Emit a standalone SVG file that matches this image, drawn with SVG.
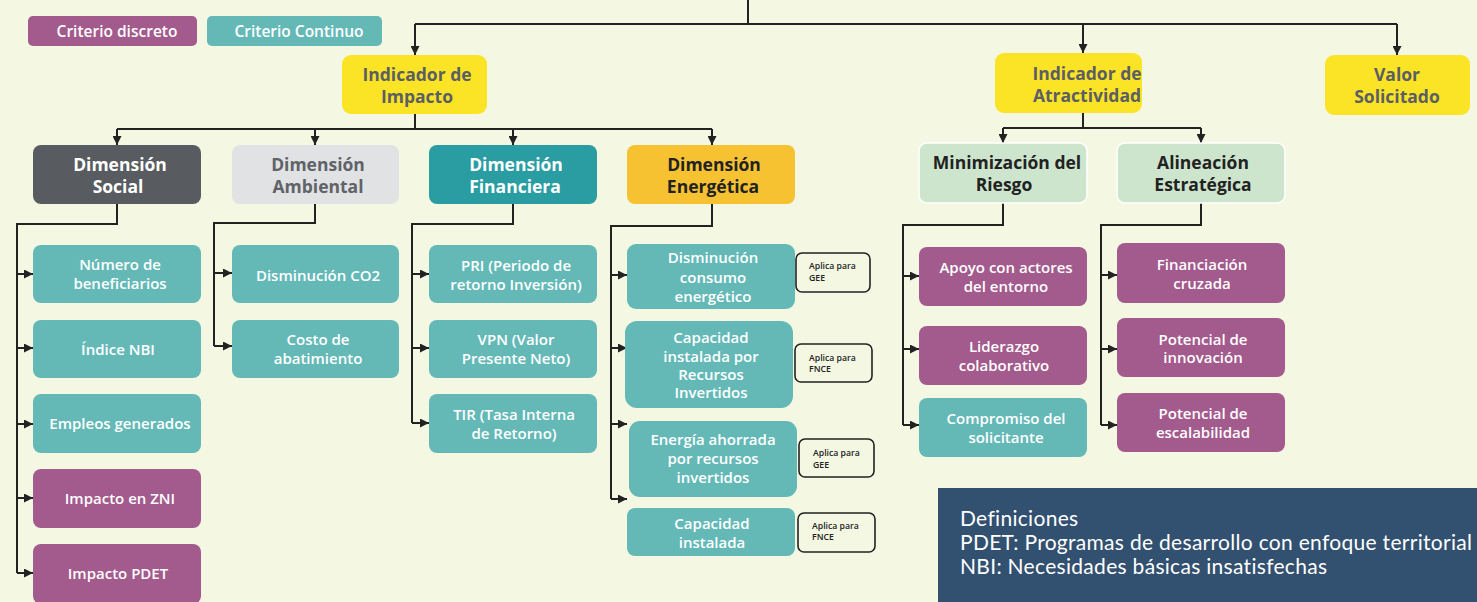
<svg xmlns="http://www.w3.org/2000/svg" width="1477" height="602" viewBox="0 0 1477 602">
<defs>
<marker id="ah" markerUnits="userSpaceOnUse" markerWidth="9" markerHeight="9" viewBox="0 0 9 9" refX="9" refY="4.5" orient="auto">
<path d="M0,0 L9,4.5 L0,9 z" fill="#222"/>
</marker>
<style>
.t{font-family:"Open Sans",Lato,sans-serif;font-weight:600;text-anchor:middle}
.w{fill:#fff}
.c{font-size:15px}
.h{font-size:17.5px;font-weight:700}
.cont{fill:#64b9b7}
.disc{fill:#a35a8c}
.ln{fill:none;stroke:#222;stroke-width:2}
.arr{fill:none;stroke:#222;stroke-width:2;marker-end:url(#ah)}
.ap{fill:none;stroke:#222;stroke-width:1.6}
.apt{font-family:"Open Sans",Lato,sans-serif;font-weight:600;font-size:8.7px;fill:#222}
.def{font-family:Lato,"Open Sans",sans-serif;font-size:21px;letter-spacing:0.3px;fill:#fff}
</style>
</defs>
<rect x="0" y="0" width="1477" height="602" fill="#f4f7e2"/>

<g id="connectors">
<path class="ln" d="M748,0 V24 M415,24 H1397"/>
<path class="arr" d="M415,24 V55"/>
<path class="arr" d="M1083,24 V53"/>
<path class="arr" d="M1397,24 V55"/>
<path class="ln" d="M415,114 V129 M117,129 H712"/>
<path class="arr" d="M117,129 V145"/>
<path class="arr" d="M315,129 V145"/>
<path class="arr" d="M513,129 V145"/>
<path class="arr" d="M712,129 V145"/>
<path class="ln" d="M1083,113 V128 M1003,128 H1201"/>
<path class="arr" d="M1003,128 V143"/>
<path class="arr" d="M1201,128 V143"/>
<path class="ln" d="M117,204 V224 H17 V573"/>
<path class="arr" d="M17,274 H33"/>
<path class="arr" d="M17,348 H33"/>
<path class="arr" d="M17,424 H33"/>
<path class="arr" d="M17,498 H33"/>
<path class="arr" d="M17,573 H33"/>
<path class="ln" d="M315,204 V223 H214 V346"/>
<path class="arr" d="M214,273 H232"/>
<path class="arr" d="M214,346 H232"/>
<path class="ln" d="M513,204 V224 H412 V423"/>
<path class="arr" d="M412,274 H429"/>
<path class="arr" d="M412,348 H429"/>
<path class="arr" d="M412,423 H429"/>
<path class="ln" d="M712,204 V226 H611 V499"/>
<path class="arr" d="M611,275 H627"/>
<path class="arr" d="M611,348 H627"/>
<path class="arr" d="M611,424 H627"/>
<path class="arr" d="M611,499 H627"/>
<path class="ln" d="M1003,203 V225 H903 V425"/>
<path class="arr" d="M903,276 H919"/>
<path class="arr" d="M903,349 H919"/>
<path class="arr" d="M903,425 H919"/>
<path class="ln" d="M1201,203 V225 H1101 V425"/>
<path class="arr" d="M1101,275 H1117"/>
<path class="arr" d="M1101,349 H1117"/>
<path class="arr" d="M1101,425 H1117"/>
</g>

<g id="legend-discreto"><rect x="28" y="16" width="169" height="30" rx="5" class="disc"/><text class="t w" x="117" y="37" font-size="15.5">Criterio discreto</text></g>
<g id="legend-continuo"><rect x="207" y="16" width="175" height="30" rx="5" class="cont"/><text class="t w" x="299" y="37" font-size="15.5">Criterio Continuo</text></g>

<g id="ind-impacto"><rect x="342" y="55" width="145" height="59" rx="9" fill="#fbe426"/><text class="t h" fill="#5b5e63" x="417" y="81">Indicador de</text><text class="t h" fill="#5b5e63" x="417" y="103">Impacto</text></g>
<g id="ind-atractividad"><rect x="995" y="53" width="147" height="60" rx="9" fill="#fbe426"/><text class="t h" fill="#5b5e63" x="1087" y="80">Indicador de</text><text class="t h" fill="#5b5e63" x="1087" y="102">Atractividad</text></g>
<g id="valor"><rect x="1325" y="55" width="145" height="60" rx="9" fill="#fbe426"/><text class="t h" fill="#5b5e63" x="1397" y="81">Valor</text><text class="t h" fill="#5b5e63" x="1397" y="103">Solicitado</text></g>

<g id="dim-social"><rect x="33" y="145" width="168" height="59" rx="8" fill="#585c60"/><text class="t h w" x="120" y="171">Dimensión</text><text class="t h w" x="118" y="193">Social</text></g>
<g id="dim-ambiental"><rect x="232" y="145" width="167" height="59" rx="8" fill="#e1e2e4"/><text class="t h" fill="#5f6368" x="318" y="171">Dimensión</text><text class="t h" fill="#5f6368" x="318" y="193">Ambiental</text></g>
<g id="dim-financiera"><rect x="429" y="145" width="168" height="59" rx="8" fill="#2a9da3"/><text class="t h w" x="516" y="171">Dimensión</text><text class="t h w" x="515" y="193">Financiera</text></g>
<g id="dim-energetica"><rect x="627" y="145" width="168" height="59" rx="8" fill="#f6c232"/><text class="t h" fill="#222" x="714" y="171">Dimensión</text><text class="t h" fill="#222" x="713" y="193">Energética</text></g>
<g id="min-riesgo"><rect x="919" y="143" width="168" height="60" rx="8" fill="#cde5cd" stroke="#fff" stroke-width="1.5"/><text class="t h" fill="#222" x="1007" y="169">Minimización del</text><text class="t h" fill="#222" x="1004" y="191">Riesgo</text></g>
<g id="alineacion"><rect x="1117" y="143" width="168" height="60" rx="8" fill="#cde5cd" stroke="#fff" stroke-width="1.5"/><text class="t h" fill="#222" x="1203" y="169">Alineación</text><text class="t h" fill="#222" x="1203" y="191">Estratégica</text></g>

<g id="num-benef"><rect x="33" y="245" width="168" height="58" rx="8" class="cont"/><text class="t c w" x="120" y="270">Número de</text><text class="t c w" x="120" y="289">beneficiarios</text></g>
<g id="indice-nbi"><rect x="33" y="320" width="168" height="58" rx="8" class="cont"/><text class="t c w" x="118" y="355">Índice NBI</text></g>
<g id="empleos"><rect x="33" y="394" width="168" height="59" rx="8" class="cont"/><text class="t c w" x="120" y="429">Empleos generados</text></g>
<g id="zni"><rect x="33" y="469" width="168" height="59" rx="8" class="disc"/><text class="t c w" x="120" y="504">Impacto en ZNI</text></g>
<g id="pdet"><rect x="33" y="544" width="168" height="60" rx="8" class="disc"/><text class="t c w" x="118" y="579">Impacto PDET</text></g>

<g id="co2"><rect x="232" y="245" width="167" height="58" rx="8" class="cont"/><text class="t c w" x="318" y="281">Disminución CO2</text></g>
<g id="costo"><rect x="232" y="320" width="167" height="58" rx="8" class="cont"/><text class="t c w" x="318" y="345">Costo de</text><text class="t c w" x="318" y="364">abatimiento</text></g>

<g id="pri"><rect x="429" y="245" width="168" height="58" rx="8" class="cont"/><text class="t c w" x="516" y="271">PRI (Periodo de</text><text class="t c w" x="516" y="290">retorno Inversión)</text></g>
<g id="vpn"><rect x="429" y="320" width="168" height="58" rx="8" class="cont"/><text class="t c w" x="516" y="345">VPN (Valor</text><text class="t c w" x="516" y="364">Presente Neto)</text></g>
<g id="tir"><rect x="429" y="394" width="168" height="59" rx="8" class="cont"/><text class="t c w" x="514" y="420">TIR (Tasa Interna</text><text class="t c w" x="514" y="439">de Retorno)</text></g>

<g id="dis-consumo"><rect x="627" y="244" width="168" height="65" rx="9" class="cont"/><text class="t c w" x="713" y="263">Disminución</text><text class="t c w" x="713" y="283">consumo</text><text class="t c w" x="713" y="302">energético</text></g>
<g id="cap-recursos"><rect x="625" y="321" width="168" height="87" rx="12" class="cont"/><text class="t c w" x="711" y="343">Capacidad</text><text class="t c w" x="711" y="362">instalada por</text><text class="t c w" x="711" y="380">Recursos</text><text class="t c w" x="711" y="398">Invertidos</text></g>
<g id="energia-ahorrada"><rect x="629" y="421" width="168" height="76" rx="11" class="cont"/><text class="t c w" x="713" y="445">Energía ahorrada</text><text class="t c w" x="713" y="464">por recursos</text><text class="t c w" x="713" y="483">invertidos</text></g>
<g id="cap-instalada"><rect x="627" y="508" width="168" height="48" rx="8" class="cont"/><text class="t c w" x="712" y="529">Capacidad</text><text class="t c w" x="712" y="548">instalada</text></g>

<g id="aplica1"><rect x="796" y="253" width="74" height="39" rx="6" class="ap"/><text class="apt" x="809" y="269">Aplica para</text><text class="apt" x="809" y="281">GEE</text></g>
<g id="aplica2"><rect x="795" y="344" width="77" height="38" rx="6" class="ap"/><text class="apt" x="809" y="361">Aplica para</text><text class="apt" x="809" y="372">FNCE</text></g>
<g id="aplica3"><rect x="799" y="439" width="75" height="38" rx="6" class="ap"/><text class="apt" x="813" y="456">Aplica para</text><text class="apt" x="813" y="468">GEE</text></g>
<g id="aplica4"><rect x="798" y="513" width="77" height="39" rx="6" class="ap"/><text class="apt" x="812" y="529">Aplica para</text><text class="apt" x="812" y="540">FNCE</text></g>

<g id="apoyo"><rect x="919" y="247" width="168" height="59" rx="8" class="disc"/><text class="t c w" x="1006" y="273">Apoyo con actores</text><text class="t c w" x="1006" y="292">del entorno</text></g>
<g id="liderazgo"><rect x="919" y="326" width="168" height="59" rx="8" class="disc"/><text class="t c w" x="1004" y="352">Liderazgo</text><text class="t c w" x="1004" y="371">colaborativo</text></g>
<g id="compromiso"><rect x="919" y="398" width="168" height="59" rx="8" class="cont"/><text class="t c w" x="1006" y="424">Compromiso del</text><text class="t c w" x="1006" y="443">solicitante</text></g>

<g id="financiacion"><rect x="1117" y="243" width="168" height="60" rx="8" class="disc"/><text class="t c w" x="1202" y="270">Financiación</text><text class="t c w" x="1202" y="289">cruzada</text></g>
<g id="innovacion"><rect x="1117" y="318" width="168" height="59" rx="8" class="disc"/><text class="t c w" x="1203" y="345">Potencial de</text><text class="t c w" x="1203" y="363">innovación</text></g>
<g id="escalabilidad"><rect x="1117" y="393" width="168" height="59" rx="8" class="disc"/><text class="t c w" x="1203" y="419">Potencial de</text><text class="t c w" x="1203" y="438">escalabilidad</text></g>

<g id="definiciones"><rect x="938" y="488" width="539" height="114" fill="#32506f"/>
<text class="def" x="960" y="526">Definiciones</text>
<text class="def" x="960" y="550">PDET: Programas de desarrollo con enfoque territorial</text>
<text class="def" x="960" y="574">NBI: Necesidades básicas insatisfechas</text>
</g>
</svg>
